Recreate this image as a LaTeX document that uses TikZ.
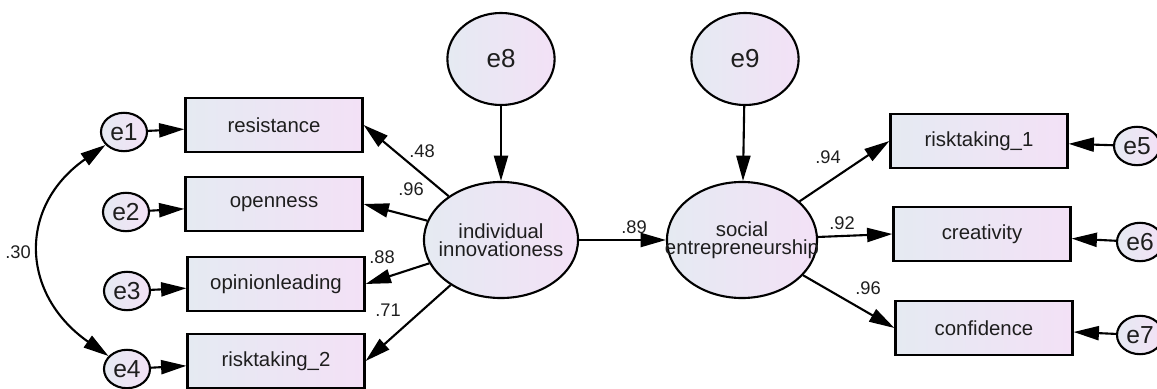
\documentclass[tikz,border=0pt]{standalone}
\usepackage{fontspec}
\setmainfont{Liberation Sans}
\usepackage{tikz}
\usetikzlibrary{arrows.meta, shapes.geometric}
\definecolor{shadeL}{RGB}{229, 234, 242}
\definecolor{shadeR}{RGB}{243, 225, 246}
\definecolor{inkgray}{RGB}{30, 30, 30}

\begin{document}
\begin{tikzpicture}[x=0.025cm, y=0.025cm,
  obsbox/.style={draw, line width=1.7pt, left color=shadeL, right color=shadeR, text=inkgray, minimum width=4.42cm, minimum height=1.36cm, inner sep=0pt, font=\fontsize{14.5}{16}\selectfont},
  errsmall/.style={draw, ellipse, line width=1.5pt, left color=shadeL, right color=shadeR, text=inkgray, minimum width=1.15cm, minimum height=0.96cm, inner sep=0pt, font=\fontsize{17.5}{19}\selectfont},
  errbig/.style={draw, ellipse, line width=1.5pt, left color=shadeL, right color=shadeR, text=inkgray, minimum width=2.68cm, minimum height=2.3cm, inner sep=0pt, font=\fontsize{18.5}{20}\selectfont},
  latent/.style={draw, ellipse, line width=1.5pt, left color=shadeL, right color=shadeR, minimum height=2.9cm, inner sep=0pt},
  latenttxt/.style={text=inkgray, inner sep=0pt, align=center, font=\fontsize{14.5}{13}\selectfont},
  coef/.style={text=inkgray, inner sep=0pt, font=\fontsize{13}{14}\selectfont},
  pth/.style={-{Triangle[length=18pt, width=10pt]}, line width=1.5pt},
]
  \useasboundingbox (0, 0) rectangle (1157, 388);

  % Latent variables
  \node[latent, minimum width=3.85cm, label={[latenttxt]center:individual\\innovationess}] (indiv) at (501, 148) {};
  \node[latent, minimum width=3.75cm, label={[latenttxt]center:social\\entrepreneurship}] (social) at (742, 148) {};
  \node[errbig] (e8) at (501, 329) {e8};
  \node[errbig] (e9) at (745, 329) {e9};
  \draw[pth] (e8) -- (indiv);
  \draw[pth] (e9) -- (social);
  \draw[pth] (indiv) -- (social);
  \node[coef] (c89) at (634, 161) {.89};

  % Indicators of individual innovationess
  \node[obsbox] (resist) at (274, 263) {resistance};
  \node[obsbox] (open) at (274, 184) {openness};
  \node[obsbox] (opinion) at (276, 104) {opinionleading};
  \node[obsbox] (risktwo) at (276, 27) {risktaking\_2};
  \draw[pth] (indiv) -- (resist.east);
  \draw[pth] (indiv) -- (open.east);
  \draw[pth] (indiv) -- (opinion.east);
  \draw[pth] (indiv) -- (risktwo.east);
  \node[coef] (c48) at (422, 237) {.48};
  \node[coef] (c96a) at (411, 199) {.96};
  \node[coef] (c88) at (382, 131) {.88};
  \node[coef] (c71) at (388, 78) {.71};

  % Errors on the left
  \node[errsmall] (e1) at (124, 256) {e1};
  \node[errsmall] (e2) at (126, 176) {e2};
  \node[errsmall] (e3) at (127, 97) {e3};
  \node[errsmall] (e4) at (127, 19) {e4};
  \draw[pth] (e1) -- (resist);
  \draw[pth] (e2) -- (open);
  \draw[pth] (e3) -- (opinion);
  \draw[pth] (e4) -- (risktwo);
  \draw[{Triangle[length=18pt, width=10pt]}-{Triangle[length=18pt, width=10pt]}, line width=1.5pt] (e1) to[out=215, in=145, looseness=1.3] (e4);
  \node[coef] (c30) at (18, 136) {.30};

  % Indicators of social entrepreneurship
  \node[obsbox] (riskone) at (979, 247) {risktaking\_1};
  \node[obsbox] (creat) at (982, 154) {creativity};
  \node[obsbox] (confid) at (984, 60) {confidence};
  \draw[pth] (social) -- (riskone.west);
  \draw[pth] (social) -- (creat.west);
  \draw[pth] (social) -- (confid.west);
  \node[coef] (c94) at (828, 231) {.94};
  \node[coef] (c92) at (842, 165) {.92};
  \node[coef] (c96b) at (868, 100) {.96};

  % Errors on the right
  \node[errsmall] (e5) at (1137, 242) {e5};
  \node[errsmall] (e6) at (1140, 146) {e6};
  \node[errsmall] (e7) at (1140, 53) {e7};
  \draw[pth] (e5) -- (riskone);
  \draw[pth] (e6) -- (creat);
  \draw[pth] (e7) -- (confid);
\end{tikzpicture}
\end{document}
